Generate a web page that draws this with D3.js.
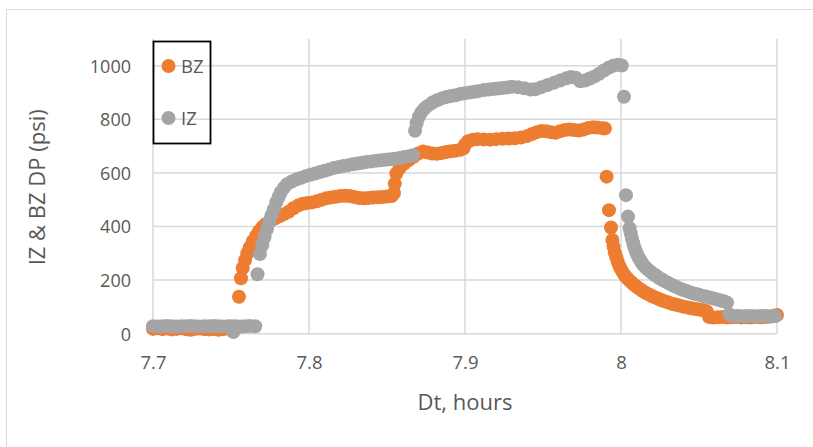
<!DOCTYPE html>
<html>
<head>
<meta charset="utf-8">
<script src="https://cdn.jsdelivr.net/npm/d3@7"></script>
<style>
  html, body { margin: 0; padding: 0; background: #ffffff; }
  svg text { font-family: "Open Sans", "Noto Sans", sans-serif; fill: #595959; }
</style>
</head>
<body>
<svg id="chart" width="813" height="447"></svg>
<script>
// ---- Data ----
const seriesNames = ["BZ", "IZ"];
const seriesColors = ["#ED7D31", "#A5A5A5"];
const xTickValues = [7.7, 7.8, 7.9, 8.0, 8.1];
const xTickLabels = ["7.7", "7.8", "7.9", "8", "8.1"];
const yTickValues = [0, 200, 400, 600, 800, 1000];
const yTickLabels = ["0", "200", "400", "600", "800", "1000"];

const bzTime = [7.700,7.703,7.706,7.709,7.712,7.715,7.718,7.721,7.724,7.727,7.730,7.733,7.736,7.739,7.742,7.745,7.748,7.751,7.7535,
  7.7551,7.7564,7.7575,7.759,7.7605,7.762,7.764,7.766,7.768,7.770,7.772,7.775,7.778,7.781,7.784,7.787,7.790,7.793,7.796,7.799,
  7.802,7.805,7.808,7.811,7.814,7.817,7.820,7.823,7.826,7.829,7.832,7.835,7.838,7.841,7.844,7.847,7.850,7.853,7.8545,7.855,
  7.856,7.858,7.861,7.864,7.867,7.870,7.873,7.876,7.879,7.882,7.885,7.888,7.891,7.894,7.897,7.899,7.900,7.902,7.905,7.908,
  7.912,7.916,7.920,7.924,7.928,7.932,7.936,7.940,7.943,7.946,7.949,7.952,7.955,7.958,7.961,7.964,7.967,7.970,7.973,7.976,
  7.979,7.982,7.985,7.988,7.9897,7.9908,7.9923,7.9936,7.9945,7.9952,7.996,7.997,7.998,7.999,8.000,8.0012,8.0025,8.004,
  8.0055,8.007,8.0085,8.010,8.0115,8.013,8.0145,8.016,8.018,8.020,8.022,8.024,8.026,8.028,8.030,8.032,8.034,8.036,8.038,
  8.040,8.042,8.044,8.046,8.048,8.050,8.052,8.054,8.055,8.0565,8.059,8.062,8.065,8.068,8.071,8.074,8.077,
  8.080,8.083,8.086,8.089,8.092,8.095,8.098,8.100];
const bzValue = [18,20,17,19,16,18,20,17,15,18,19,17,16,18,15,17,19,18,22,
  138,207,245,275,300,322,345,365,382,396,408,420,430,438,446,455,468,478,485,488,
  490,494,500,505,508,511,514,515,514,510,506,505,506,508,509,510,512,514,525,560,
  598,617,635,648,660,672,680,676,672,671,674,678,681,683,686,692,705,718,724,726,
  725,724,726,727,728,729,732,738,745,752,756,755,752,750,755,760,762,760,758,762,
  768,770,769,767,766,586,461,396,350,325,303,285,268,253,240,228,217,207,
  198,190,182,175,169,163,157,152,146,140,135,130,125,121,117,113,110,107,104,
  101,99,96,94,92,90,88,85,83,62,60,61,62,60,61,62,60,
  61,60,62,61,62,63,66,70];

const izTime = [7.700,7.703,7.706,7.709,7.712,7.715,7.718,7.721,7.724,7.727,7.730,7.733,7.736,7.739,7.742,7.745,7.748,7.7505,7.7515,
  7.753,7.756,7.759,7.762,7.7655,7.767,7.7685,7.770,7.7715,7.773,7.7745,7.776,7.7775,7.779,7.7805,7.782,7.784,7.786,7.789,7.792,
  7.795,7.798,7.801,7.804,7.807,7.810,7.813,7.816,7.819,7.822,7.825,7.828,7.831,7.834,7.837,7.840,7.843,7.846,7.849,7.852,
  7.855,7.858,7.861,7.864,7.8667,7.868,7.869,7.8705,7.872,7.874,7.876,7.879,7.882,7.885,7.888,7.891,7.894,7.897,7.900,7.903,
  7.906,7.909,7.912,7.915,7.918,7.921,7.924,7.927,7.930,7.934,7.938,7.942,7.945,7.949,7.953,7.957,7.961,7.965,7.968,7.971,
  7.974,7.977,7.980,7.983,7.986,7.989,7.992,7.995,7.998,8.0005,8.0019,8.0032,8.0045,8.0055,8.0062,8.007,8.0078,8.0086,8.0095,
  8.0105,8.0115,8.0125,8.0135,8.0145,8.016,8.0175,8.019,8.0205,8.022,8.0235,8.025,8.0265,8.028,8.030,8.032,8.034,8.036,8.038,
  8.040,8.042,8.044,8.046,8.048,8.050,8.052,8.054,8.056,8.058,8.060,8.062,8.064,8.066,8.068,8.0695,8.072,8.075,8.078,8.081,
  8.084,8.087,8.090,8.093,8.096,8.099];
const izValue = [28,27,28,29,28,27,28,28,29,28,27,28,28,29,28,27,28,28,6,
  28,27,28,29,28,222,297,330,360,390,418,442,465,490,510,528,545,558,568,576,
  582,588,593,598,603,608,613,618,622,626,629,632,635,638,641,643,645,647,649,651,
  653,656,659,662,666,757,785,810,826,840,850,862,871,878,883,887,890,894,897,900,
  903,906,909,911,913,915,917,919,921,920,916,911,912,920,928,936,945,953,958,955,
  942,945,952,960,970,982,992,1000,1004,1001,884,517,437,394,375,355,338,322,308,
  294,282,272,263,255,246,238,231,224,218,212,206,201,196,190,184,178,173,168,
  163,159,155,151,148,145,142,139,136,133,130,127,124,121,116,72,66,66,65,66,
  66,65,66,66,65,66];

const bzData = bzTime.map((t, i) => ({ t, v: bzValue[i] }));
const izData = izTime.map((t, i) => ({ t, v: izValue[i] }));
const allSeries = [bzData, izData];

// ---- Layout ----
const svg = d3.select("#chart");
const plot = { left: 153, right: 777, top: 38.9, bottom: 333.7 };

const x = d3.scaleLinear().domain([7.7, 8.1]).range([plot.left, plot.right]);
const y = d3.scaleLinear().domain([0, 1100]).range([plot.bottom, plot.top]);

// outer chart border
svg.append("rect")
  .attr("x", 6.5).attr("y", 9.5).attr("width", 900).attr("height", 500)
  .attr("fill", "none").attr("stroke", "#d9d9d9").attr("stroke-width", 1);

// gridlines
const grid = svg.append("g");
grid.selectAll("line.h").data(yTickValues).join("line")
  .attr("x1", plot.left).attr("x2", plot.right)
  .attr("y1", d => y(d)).attr("y2", d => y(d))
  .attr("stroke", "#d9d9d9").attr("stroke-width", 1.5);
grid.selectAll("line.v").data(xTickValues).join("line")
  .attr("x1", d => x(d)).attr("x2", d => x(d))
  .attr("y1", plot.top).attr("y2", plot.bottom)
  .attr("stroke", "#d9d9d9").attr("stroke-width", 1.5);

// axes
const yAxis = d3.axisLeft(y).tickValues(yTickValues).tickSize(0).tickPadding(0)
  .tickFormat((d, i) => yTickLabels[i]);
const gy = svg.append("g").attr("transform", `translate(${plot.left - 22},0)`).call(yAxis);
gy.select(".domain").remove();
gy.selectAll("text").attr("font-size", 18).attr("font-family", "Open Sans").attr("fill", "#595959").attr("dy", "0.35em");

const xAxis = d3.axisBottom(x).tickValues(xTickValues).tickSize(0).tickPadding(0)
  .tickFormat((d, i) => xTickLabels[i]);
const gx = svg.append("g").attr("transform", `translate(0,${plot.bottom + 22})`).call(xAxis);
gx.select(".domain").remove();
gx.selectAll("text").attr("font-size", 18.5).attr("font-family", "Open Sans").attr("fill", "#595959").attr("dy", "0.71em");

// axis titles
svg.append("text")
  .attr("x", (plot.left + plot.right) / 2).attr("y", 410)
  .attr("text-anchor", "middle").attr("font-size", 22)
  .text("Dt, hours");
svg.append("text")
  .attr("transform", `translate(45,${(plot.top + plot.bottom) / 2 + 1}) rotate(-90)`)
  .attr("text-anchor", "middle").attr("font-size", 22)
  .text("IZ & BZ DP (psi)");

// series
allSeries.forEach((data, si) => {
  svg.append("g").selectAll("circle").data(data).join("circle")
    .attr("cx", d => x(d.t)).attr("cy", d => y(d.v)).attr("r", 7)
    .attr("fill", seriesColors[si]);
});

// legend
const legend = svg.append("g");
legend.append("rect")
  .attr("x", 153.5).attr("y", 41.5).attr("width", 57).attr("height", 102)
  .attr("fill", "none").attr("stroke", "#000000").attr("stroke-width", 1.8);
seriesNames.forEach((name, i) => {
  const cy = 66 + i * 52;
  legend.append("circle").attr("cx", 168.5).attr("cy", cy).attr("r", 7).attr("fill", seriesColors[i]);
  legend.append("text").attr("x", 181).attr("y", cy).attr("dy", "0.36em")
    .attr("font-size", 18.5).text(name);
});
</script>
</body>
</html>
